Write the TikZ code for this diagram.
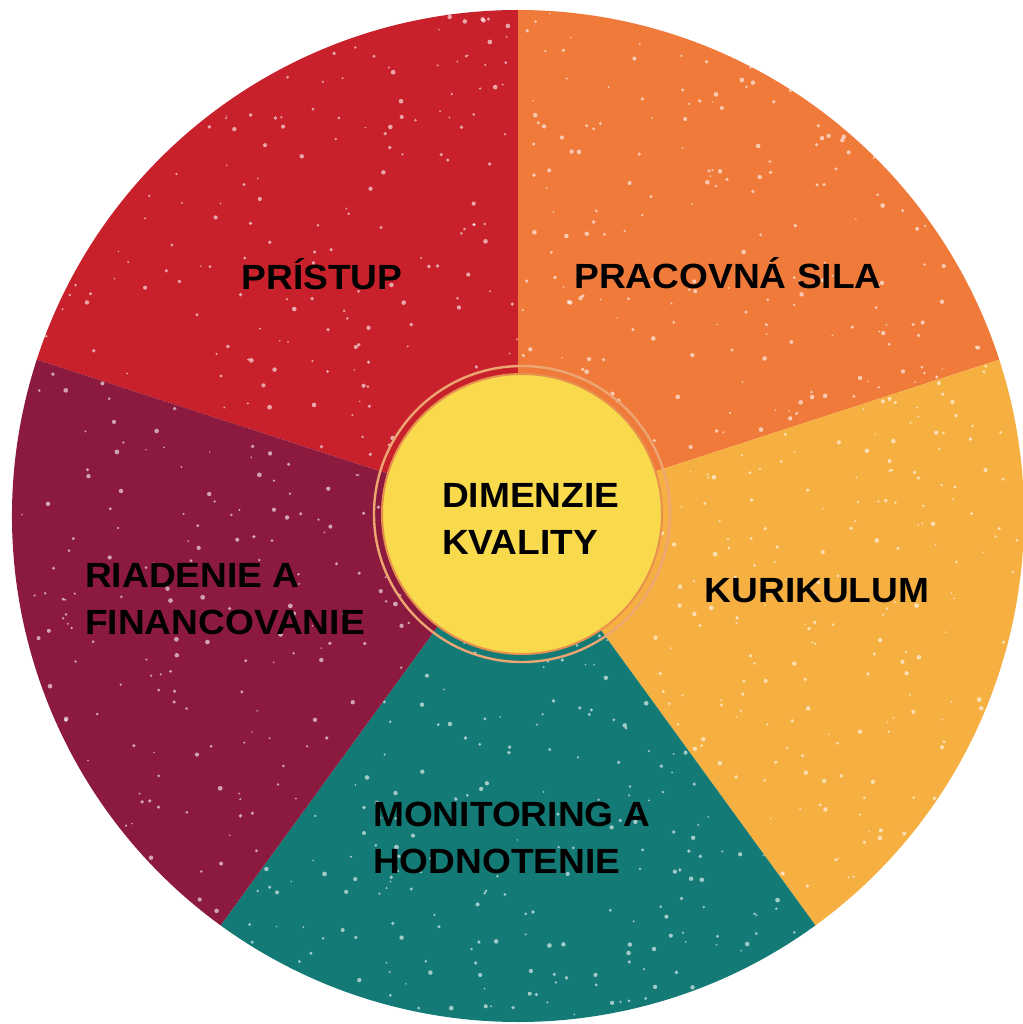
\documentclass[tikz,border=0pt]{standalone}
\usepackage{fontspec}
\newfontfamily\labfont[FakeStretch=1.06]{Liberation Sans}
\usetikzlibrary{calc}
\definecolor{cRed}{HTML}{C8212B}
\definecolor{cOrange}{HTML}{EF7A3A}
\definecolor{cLight}{HTML}{F6B042}
\definecolor{cTeal}{HTML}{137A76}
\definecolor{cMaroon}{HTML}{8C1A3E}
\definecolor{cYellow}{HTML}{F8DA4C}
\definecolor{cRing}{HTML}{E8904E}
\tikzset{
  lab/.style={font=\labfont\bfseries\fontsize{35}{46.5}\selectfont, text=black, inner sep=0pt},
}
\begin{document}
\begin{tikzpicture}[x=1pt,y=1pt]
\useasboundingbox (0,0) rectangle (1022,-1024);
\fill[white] (0,0) rectangle (1022,-1024);
\coordinate (C) at (518,-516);
% sectors
\fill[cRed]    (C) -- ++(90:506)  arc[start angle=90,  end angle=162, radius=506] -- cycle;
\fill[cOrange] (C) -- ++(18:506)  arc[start angle=18,  end angle=90,  radius=506] -- cycle;
\fill[cLight]  (C) -- ++(-54:506) arc[start angle=-54, end angle=18,  radius=506] -- cycle;
\fill[cTeal]   (C) -- ++(-126:506) arc[start angle=-126, end angle=-54, radius=506] -- cycle;
\fill[cMaroon] (C) -- ++(162:506) arc[start angle=162, end angle=234, radius=506] -- cycle;
% speckle texture
\pgfmathsetseed{12}
\begin{scope}
\clip (C) circle (506);
\foreach \i in {1,...,950}{
  \pgfmathsetmacro{\ang}{360*rnd}
  \pgfmathsetmacro{\rad}{506*sqrt(rnd)}
  \pgfmathsetmacro{\sz}{0.8+1.6*rnd}
  \fill[white, opacity=0.6] ($(C)+(\ang:\rad)$) circle (\sz);
}
\end{scope}
% center
\coordinate (M) at (522,-514);
\draw[cRing!80!white, line width=2.4] (M) circle (148);
\node[circle, fill=cYellow, draw=cRing, line width=2, minimum size=280pt, inner sep=0pt] (center) at (M) {};
% labels
\node[lab, anchor=west, align=left] (dim) at (442,-519) {DIMENZIE\\KVALITY};
\node[lab, anchor=base] (pristup) at (322,-289) {PRÍSTUP};
\node[lab, anchor=base] (prac) at (728,-288) {PRACOVNÁ SILA};
\node[lab, anchor=base] (kur) at (817,-602) {KURIKULUM};
\node[lab, anchor=west, align=left] (riad) at (85,-599) {RIADENIE A\\FINANCOVANIE};
\node[lab, anchor=west, align=left] (mon) at (373,-838) {MONITORING A\\HODNOTENIE};
\end{tikzpicture}
\end{document}
